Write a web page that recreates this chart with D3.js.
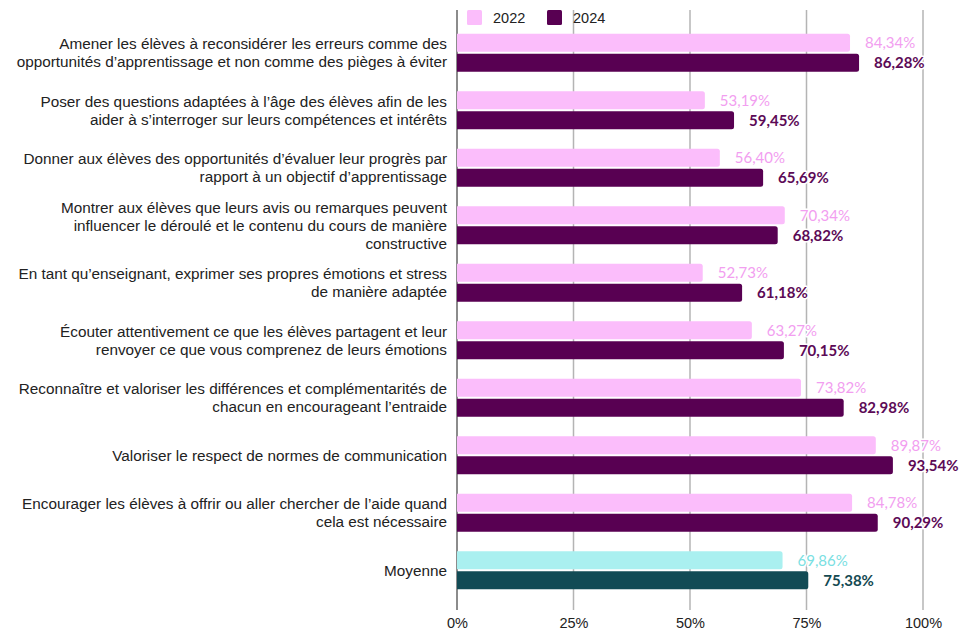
<!DOCTYPE html>
<html>
<head>
<meta charset="utf-8">
<script src="https://cdn.jsdelivr.net/npm/d3@7"></script>
<style>
  body { margin: 0; background: #fff; }
  svg { display: block; }
</style>
</head>
<body>
<svg id="chart" width="963" height="632"></svg>
<script>
// categories (each label split into its displayed lines)
var categories = [
  ["Amener les élèves à reconsidérer les erreurs comme des", "opportunités d’apprentissage et non comme des pièges à éviter"],
  ["Poser des questions adaptées à l’âge des élèves afin de les", "aider à s’interroger sur leurs compétences et intérêts"],
  ["Donner aux élèves des opportunités d’évaluer leur progrès par", "rapport à un objectif d’apprentissage"],
  ["Montrer aux élèves que leurs avis ou remarques peuvent", "influencer le déroulé et le contenu du cours de manière", "constructive"],
  ["En tant qu’enseignant, exprimer ses propres émotions et stress", "de manière adaptée"],
  ["Écouter attentivement ce que les élèves partagent et leur", "renvoyer ce que vous comprenez de leurs émotions"],
  ["Reconnaître et valoriser les différences et complémentarités de", "chacun en encourageant l’entraide"],
  ["Valoriser le respect de normes de communication"],
  ["Encourager les élèves à offrir ou aller chercher de l’aide quand", "cela est nécessaire"],
  ["Moyenne"]
];
var values2022 = [84.34, 53.19, 56.40, 70.34, 52.73, 63.27, 73.82, 89.87, 84.78, 69.86];
var values2024 = [86.28, 59.45, 65.69, 68.82, 61.18, 70.15, 82.98, 93.54, 90.29, 75.38];
var seriesNames = ["2022", "2024"];
var ticks = [0, 25, 50, 75, 100];

var svg = d3.select("#chart");
var plotLeft = 457, plotRight = 923, plotTop = 24, plotBottom = 599;

var x = d3.scaleLinear().domain([0, 100]).range([plotLeft, plotRight]);
var y = d3.scaleBand().domain(d3.range(categories.length)).range([plotTop, plotBottom]).paddingInner(0.34).paddingOuter(0.17);
var sub = d3.scaleBand().domain([0, 1]).range([0, y.bandwidth()]).paddingInner(0.09);

var fmt = function (v) { return v.toFixed(2).replace(".", ",") + "%"; };

function barColor(s, i) {
  var avg = i === categories.length - 1;
  if (s === 0) return avg ? "#aaf0f0" : "#fbbdfb";
  return avg ? "#124b55" : "#580052";
}
function labelColor(s, i) {
  var avg = i === categories.length - 1;
  if (s === 0) return avg ? "#7ae0e2" : "#f29ef0";
  return avg ? "#144a52" : "#5c0a56";
}

// gridlines
svg.append("g").selectAll("line")
  .data(ticks)
  .enter().append("line")
  .attr("x1", function (d) { return x(d); })
  .attr("x2", function (d) { return x(d); })
  .attr("y1", 10)
  .attr("y2", 610)
  .attr("stroke", function (d) { return d === 0 ? "#666" : "#b4b4b4"; })
  .attr("stroke-width", 1.5);

// x axis labels
var xAxis = d3.axisBottom(x).tickValues(ticks).tickSize(0).tickPadding(0)
  .tickFormat(function (d) { return d + "%"; });
var gx = svg.append("g").attr("transform", "translate(0,618)").call(xAxis);
gx.select(".domain").remove();
gx.selectAll("text")
  .attr("font-family", "Liberation Sans, Arial, sans-serif")
  .attr("font-size", 14.5)
  .attr("fill", "#222");

// bars
var data = [];
categories.forEach(function (c, i) {
  data.push({ i: i, s: 0, v: values2022[i] });
  data.push({ i: i, s: 1, v: values2024[i] });
});

var bars = svg.append("g");
bars.selectAll("path")
  .data(data)
  .enter().append("path")
  .attr("d", function (d) {
    var x0 = x(0), x1 = x(d.v), y0 = y(d.i) + sub(d.s), h = sub.bandwidth(), r = 2.5;
    return "M" + x0 + "," + y0 + "H" + (x1 - r) + "Q" + x1 + "," + y0 + " " + x1 + "," + (y0 + r) +
      "V" + (y0 + h - r) + "Q" + x1 + "," + (y0 + h) + " " + (x1 - r) + "," + (y0 + h) + "H" + x0 + "Z";
  })
  .attr("fill", function (d) { return barColor(d.s, d.i); });

// value labels
svg.append("g").selectAll("text")
  .data(data)
  .enter().append("text")
  .attr("x", function (d) { return x(d.v) + 15; })
  .attr("y", function (d) { return y(d.i) + sub(d.s) + sub.bandwidth() / 2; })
  .attr("dy", "0.36em")
  .attr("font-family", "Lato, sans-serif")
  .attr("font-size", 15)
  .attr("font-weight", function (d) { return d.s === 1 ? "bold" : "normal"; })
  .attr("fill", function (d) { return labelColor(d.s, d.i); })
  .attr("stroke", "#fff")
  .attr("stroke-width", 3)
  .attr("stroke-linejoin", "round")
  .attr("paint-order", "stroke")
  .text(function (d) { return fmt(d.v); });

// category labels
var lineH = 18;
var cat = svg.append("g").selectAll("text")
  .data(categories)
  .enter().append("text")
  .attr("text-anchor", "end")
  .attr("font-family", "Liberation Sans, Arial, sans-serif")
  .attr("font-size", 15.3)
  .attr("fill", "#222")
  .attr("transform", function (d, i) {
    var cy = y(i) + y.bandwidth() / 2 - (d.length - 1) * lineH / 2;
    return "translate(447," + cy + ")";
  });
cat.selectAll("tspan")
  .data(function (d) { return d; })
  .enter().append("tspan")
  .attr("x", 0)
  .attr("y", function (d, j) { return j * lineH; })
  .attr("dy", "0.35em")
  .text(function (d) { return d; });

// legend
var legend = svg.append("g").selectAll("g")
  .data(seriesNames)
  .enter().append("g")
  .attr("transform", function (d, i) { return "translate(" + (467 + i * 80) + ",10)"; });
legend.append("rect")
  .attr("width", 15).attr("height", 15).attr("rx", 1.5)
  .attr("fill", function (d, i) { return barColor(i, 0); });
legend.append("text")
  .attr("x", 26).attr("y", 7.5).attr("dy", "0.36em")
  .attr("font-family", "Liberation Sans, Arial, sans-serif")
  .attr("font-size", 14.5)
  .attr("fill", "#222")
  .text(function (d) { return d; });
</script>
</body>
</html>
